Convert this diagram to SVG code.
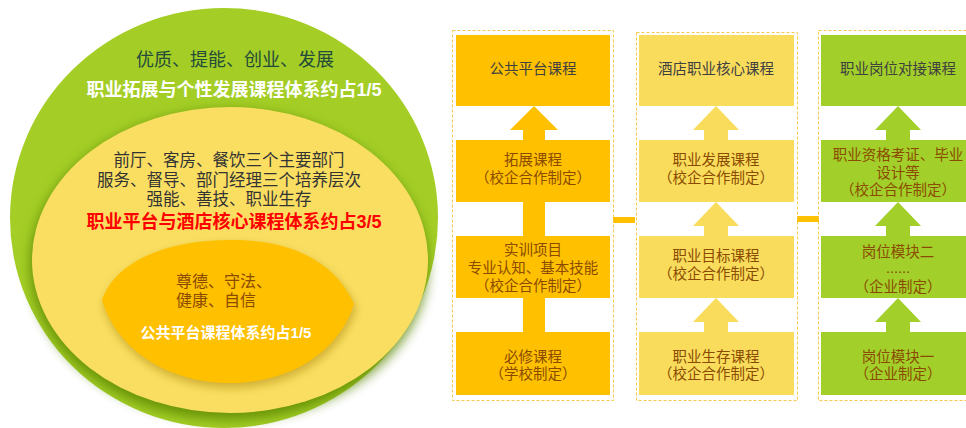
<svg xmlns="http://www.w3.org/2000/svg" width="966" height="428" viewBox="0 0 966 428">
<defs>
<filter id="blur6" x="-20%" y="-20%" width="140%" height="140%"><feGaussianBlur stdDeviation="6"/></filter>
<filter id="blur4" x="-20%" y="-20%" width="140%" height="140%"><feGaussianBlur stdDeviation="4"/></filter>
<style>
text{font-family:"Liberation Sans","Noto Sans CJK SC",sans-serif;dominant-baseline:central;text-anchor:middle}
.box1{fill:#FFC000}
.box2{fill:#F9DC5C}
.box3{fill:#A2CF2A}
.dash{fill:none;stroke:#F6C94A;stroke-width:1;stroke-dasharray:3 2}
.t{font-size:14.5px;fill:#8A4B00}
.h{font-size:14.5px;fill:#404040}
.link{fill:#FFC000}
</style>
</defs>

<g id="circle">
<ellipse cx="224" cy="218" rx="214" ry="210" fill="#A4CE26"/>
<ellipse cx="229" cy="265" rx="199" ry="155" fill="#5A8506" opacity="0.8" filter="url(#blur6)"/>
<ellipse cx="230" cy="260" rx="198" ry="153" fill="#F9DE62"/>
<path d="M103,305 C116,266 166,244 233,244 C293,244 337,266 356,308 C342,354 293,388 231,388 C169,388 118,354 103,305 Z" fill="#B08A10" opacity="0.55" filter="url(#blur4)"/>
<path d="M102,300 C115,262 165,240 232,240 C292,240 335,262 354,304 C340,350 292,383 230,383 C168,383 117,350 102,300 Z" fill="#FFC000"/>
<text x="235" y="60" style="font-size:18px;fill:#234A3A">优质、提能、创业、发展</text>
<text x="234" y="90" style="font-size:18px;font-weight:bold;fill:#FFFFFF">职业拓展与个性发展课程体系约占1/5</text>
<text x="229" y="160" style="font-size:16.5px;fill:#333333">前厅、客房、餐饮三个主要部门</text>
<text x="229" y="180" style="font-size:16.5px;fill:#333333">服务、督导、部门经理三个培养层次</text>
<text x="229" y="199" style="font-size:16.5px;fill:#333333">强能、善技、职业生存</text>
<text x="234" y="222" style="font-size:18px;font-weight:bold;fill:#FF0000">职业平台与酒店核心课程体系约占3/5</text>
<text x="176" y="281" style="font-size:16px;fill:#8A4B00;text-anchor:start">尊德、守法、</text>
<text x="176" y="300" style="font-size:16px;fill:#8A4B00;text-anchor:start">健康、自信</text>
<text x="226" y="332" style="font-size:15px;font-weight:bold;fill:#FFFFFF">公共平台课程体系约占1/5</text>
</g>

<g id="connectors">
<rect class="link" x="613" y="217" width="22" height="6"/>
<rect class="link" x="797" y="216" width="22" height="6"/>
<rect class="box1" x="523" y="128" width="22" height="206"/>
<polygon class="box1" points="534,106 510,130 558,130"/>
<g class="box2">
<polygon points="716,106 693,130 739,130"/><rect x="704" y="129" width="24" height="12"/>
<polygon points="716,202 693,226 739,226"/><rect x="704" y="225" width="24" height="12"/>
<polygon points="716,298 693,322 739,322"/><rect x="704" y="321" width="24" height="12"/>
</g>
<g class="box3">
<polygon points="898,106 875,130 921,130"/><rect x="886" y="129" width="24" height="12"/>
<polygon points="898,202 875,226 921,226"/><rect x="886" y="225" width="24" height="12"/>
<polygon points="898,298 875,322 921,322"/><rect x="886" y="321" width="24" height="12"/>
</g>
</g>

<g id="col1">
<rect class="dash" x="452.5" y="30.5" width="161" height="370"/>
<g id="c1-top"><rect class="box1" x="456" y="35" width="154" height="71"/><text class="h" x="533" y="69">公共平台课程</text></g>
<g id="c1-b2"><rect class="box1" x="456" y="140" width="154" height="62"/><text class="t" x="533" y="160">拓展课程</text><text class="t" x="533" y="178">（校企合作制定）</text></g>
<g id="c1-b3"><rect class="box1" x="456" y="236" width="154" height="62"/><text class="t" x="533" y="250">实训项目</text><text class="t" x="533" y="268">专业认知、基本技能</text><text class="t" x="533" y="286">（校企合作制定）</text></g>
<g id="c1-b4"><rect class="box1" x="456" y="332" width="154" height="63"/><text class="t" x="533" y="357">必修课程</text><text class="t" x="533" y="374">（学校制定）</text></g>
</g>

<g id="col2">
<rect class="dash" x="636.5" y="32.5" width="161" height="368"/>
<g id="c2-top"><rect class="box2" x="639" y="35" width="155" height="71"/><text class="h" x="716" y="69">酒店职业核心课程</text></g>
<g id="c2-b2"><rect class="box2" x="639" y="140" width="155" height="62"/><text class="t" x="716" y="160">职业发展课程</text><text class="t" x="716" y="178">（校企合作制定）</text></g>
<g id="c2-b3"><rect class="box2" x="639" y="236" width="155" height="62"/><text class="t" x="716" y="256">职业目标课程</text><text class="t" x="716" y="274">（校企合作制定）</text></g>
<g id="c2-b4"><rect class="box2" x="639" y="332" width="155" height="63"/><text class="t" x="716" y="357">职业生存课程</text><text class="t" x="716" y="374">（校企合作制定）</text></g>
</g>

<g id="col3">
<rect class="dash" x="818.5" y="30.5" width="162" height="370"/>
<g id="c3-top"><rect class="box3" x="821" y="35" width="156" height="71"/><text class="h" x="898" y="69">职业岗位对接课程</text></g>
<g id="c3-b2"><rect class="box3" x="821" y="140" width="156" height="62"/><text class="t" x="898" y="155">职业资格考证、毕业</text><text class="t" x="898" y="173">设计等</text><text class="t" x="898" y="190">（校企合作制定）</text></g>
<g id="c3-b3"><rect class="box3" x="821" y="236" width="156" height="62"/><text class="t" x="898" y="252">岗位模块二</text><text class="t" x="898" y="268">......</text><text class="t" x="898" y="287">（企业制定）</text></g>
<g id="c3-b4"><rect class="box3" x="821" y="332" width="156" height="63"/><text class="t" x="898" y="357">岗位模块一</text><text class="t" x="898" y="374">（企业制定）</text></g>
</g>
</svg>
